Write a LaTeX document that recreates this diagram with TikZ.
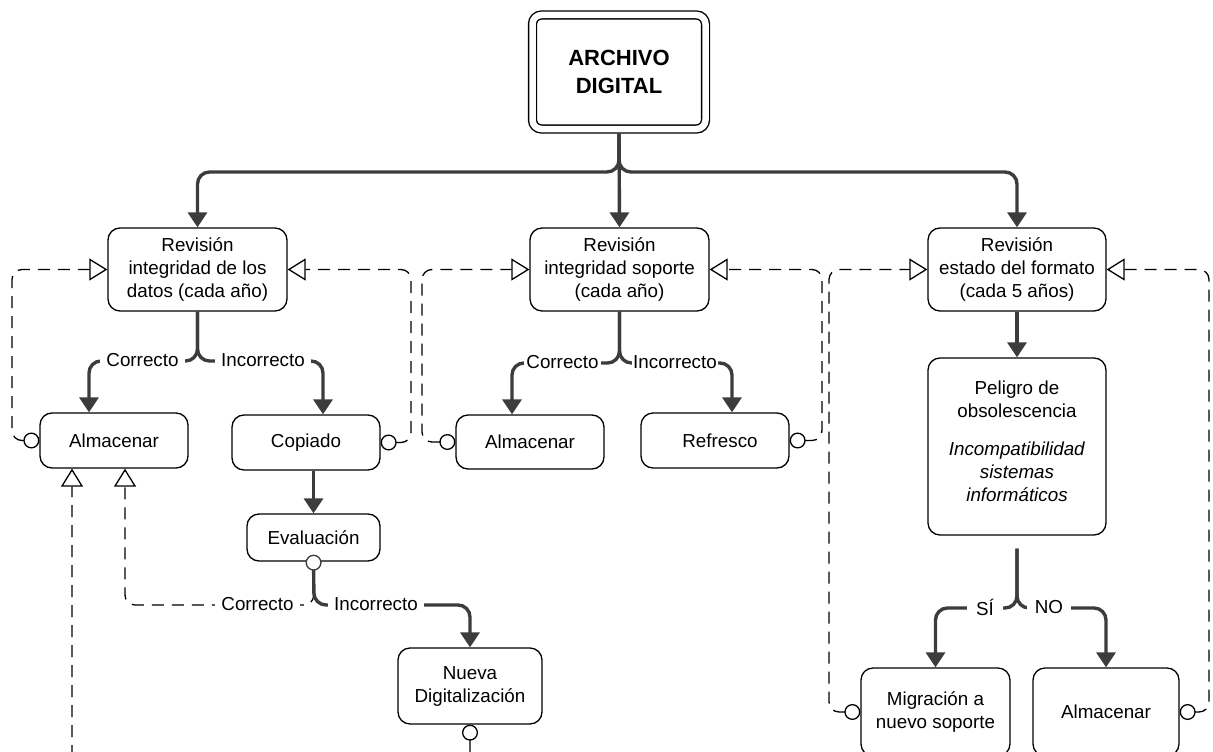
\documentclass[tikz,border=0pt]{standalone}
\usepackage{fontspec}
\setmainfont{Liberation Sans}
\usetikzlibrary{arrows.meta}
\definecolor{ln}{HTML}{3C3C3C}
\begin{document}
\begin{tikzpicture}[x=1pt,y=-1pt,
  every node/.style={font=\fontsize{18.8}{23}\selectfont, inner sep=0pt},
  box/.style={draw=black, line width=1.3pt, rounded corners=12pt, align=center},
  conn/.style={draw=ln, line width=3.4pt, rounded corners=12pt},
  dconn/.style={draw=black, line width=1.3pt, dash pattern=on 12pt off 8pt, rounded corners=10pt},
  sar/.style={-{Triangle[fill=ln,length=15pt,width=19pt]}},
  dar/.style={-{Triangle[open,fill=white,length=18pt,width=22pt,line width=1.3pt]}},
  cd/.style={{Circle[open,fill=white,length=16pt,width=16pt,line width=1.3pt]}-{Triangle[open,fill=white,length=18pt,width=22pt,line width=1.3pt]}},
  cs/.style={{Circle[open,fill=white,length=16pt,width=16pt,line width=1.3pt]}-{Triangle[fill=ln,length=15pt,width=19pt]}},
  lbl/.style={fill=white, inner ysep=2pt, inner xsep=6pt},
]
\useasboundingbox (0,0) rectangle (1213,752);
\clip (0,0) rectangle (1213,752);

% boxes
\node[box, double, double distance=6.5pt, line width=1.4pt, rounded corners=9pt,
      minimum width=173pt, minimum height=114pt,
      font=\fontsize{22}{28}\selectfont\bfseries] (arch) at (619,72) {ARCHIVO\\DIGITAL};
\node[box, minimum width=179pt, minimum height=83pt] (r1) at (197.5,269.5) {Revisión\\integridad de los\\datos (cada año)};
\node[box, minimum width=179pt, minimum height=83pt] (r2) at (619.5,269.5) {Revisión\\integridad soporte\\(cada año)};
\node[box, minimum width=178pt, minimum height=83pt] (r3) at (1017,269.5) {Revisión\\estado del formato\\(cada 5 años)};
\node[box, minimum width=148pt, minimum height=55pt] (alm1) at (114,440.5) {Almacenar};
\node[box, minimum width=148pt, minimum height=55pt] (cop) at (306,442.5) {Copiado};
\node[box, minimum width=148pt, minimum height=54pt] (alm2) at (530,442) {Almacenar};
\node[box, minimum width=148pt, minimum height=55pt] (ref) at (715,440.5) {\hspace*{10pt}Refresco};
\node[box, minimum width=133pt, minimum height=47pt] (eval) at (313.5,537.5) {Evaluación};
\node[box, minimum width=144pt, minimum height=76pt] (nueva) at (470,686) {Nueva\\Digitalización};
\node[box, minimum width=178pt, minimum height=177pt] (pel) at (1017,446.5)
  {Peligro de\\obsolescencia\\[15pt]\textit{Incompatibilidad}\\\textit{sistemas}\\\textit{informáticos}\\[-12pt]\mbox{}};
\node[box, minimum width=149pt, minimum height=88pt] (mig) at (935.5,712) {Migración a\\nuevo soporte};
\node[box, minimum width=146pt, minimum height=88pt] (alm3) at (1106,712) {Almacenar};

% helper coordinates
\coordinate (jt) at (619,172);
\coordinate (j1) at (197.5,361);
\coordinate (j2) at (619.5,363);
\coordinate (jp) at (1017,608);
\coordinate (je) at (314,605);
\coordinate (jb) at (470,764);
\coordinate (a1) at ([xshift=-25pt]alm1.north);
\coordinate (a2) at ([xshift=17pt]cop.north);
\coordinate (a3) at ([xshift=-18pt]alm2.north);
\coordinate (a4) at ([xshift=17pt]ref.north);
\coordinate (b1) at ([xshift=-42pt]alm1.south);
\coordinate (b2) at ([xshift=11pt]alm1.south);
\coordinate (xl1) at (12,0);
\coordinate (xr1) at (411,0);
\coordinate (xl2) at (422,0);
\coordinate (xr2) at (822,0);
\coordinate (xl3) at (829,0);
\coordinate (xr3) at (1209,0);

% dashed feedback loops
\draw[dconn, cd] (alm1.west) -- (alm1.west -| xl1) -- (r1.west -| xl1) -- (r1.west);
\draw[dconn, cd] (cop.east) -- (cop.east -| xr1) -- (r1.east -| xr1) -- (r1.east);
\draw[dconn, cd] (alm2.west) -- (alm2.west -| xl2) -- (r2.west -| xl2) -- (r2.west);
\draw[dconn, cd] (ref.east) -- (ref.east -| xr2) -- (r2.east -| xr2) -- (r2.east);
\draw[dconn, cd] (mig.west) -- (mig.west -| xl3) -- (r3.west -| xl3) -- (r3.west);
\draw[dconn, cd] (alm3.east) -- (alm3.east -| xr3) -- (r3.east -| xr3) -- (r3.east);
\draw[dconn, dar] ([yshift=-29pt]eval.south) -- (je) -- (b2 |- je) -- (b2);
\draw[dconn, cd] (nueva.south) -- (jb) -- (b1 |- jb) -- (b1);

% solid connectors
\draw[conn, sar] ([yshift=-4pt]arch.south) -- (jt) -- (r1.north |- jt) -- (r1.north);
\draw[conn, sar] ([yshift=-4pt]arch.south) -- (jt) -- (r3.north |- jt) -- (r3.north);
\draw[conn, sar] ([yshift=-4pt]arch.south) -- (r2.north);

\draw[conn, sar] (r1.south) -- (j1) -- (a1 |- j1) -- (a1);
\draw[conn, sar] (r1.south) -- (j1) -- (a2 |- j1) -- (a2);
\draw[conn, sar] (r2.south) -- (j2) -- (a3 |- j2) -- (a3);
\draw[conn, sar] (r2.south) -- (j2) -- (a4 |- j2) -- (a4);
\draw[conn, sar] (cop.south -| eval.north) -- (eval.north);
\draw[conn, cs] ([yshift=7pt]eval.south) -- (je) -- (nueva.north |- je) -- (nueva.north);
\draw[conn, sar] (r3.south) -- (pel.north);
\draw[conn, sar] ([yshift=-13pt]pel.south) -- (jp) -- (mig.north |- jp) -- (mig.north);
\draw[conn, sar] ([yshift=-13pt]pel.south) -- (jp) -- (alm3.north |- jp) -- (alm3.north);

% labels
\node[lbl] (c1) at (142.5,360) {Correcto};
\node[lbl] (i1) at (263,360) {Incorrecto};
\node[lbl, inner xsep=2pt] (c2) at (562.5,362) {Correcto};
\node[lbl, inner xsep=1pt] (i2) at (675,362) {Incorrecto};
\node[lbl] (c3) at (257.5,604) {Correcto};
\node[lbl] (i3) at (376,604) {Incorrecto};
\node[lbl, inner xsep=9pt] (si) at (985,607) {SÍ};
\node[lbl, inner xsep=8pt] (no) at (1049,607) {NO};
\end{tikzpicture}
\end{document}
